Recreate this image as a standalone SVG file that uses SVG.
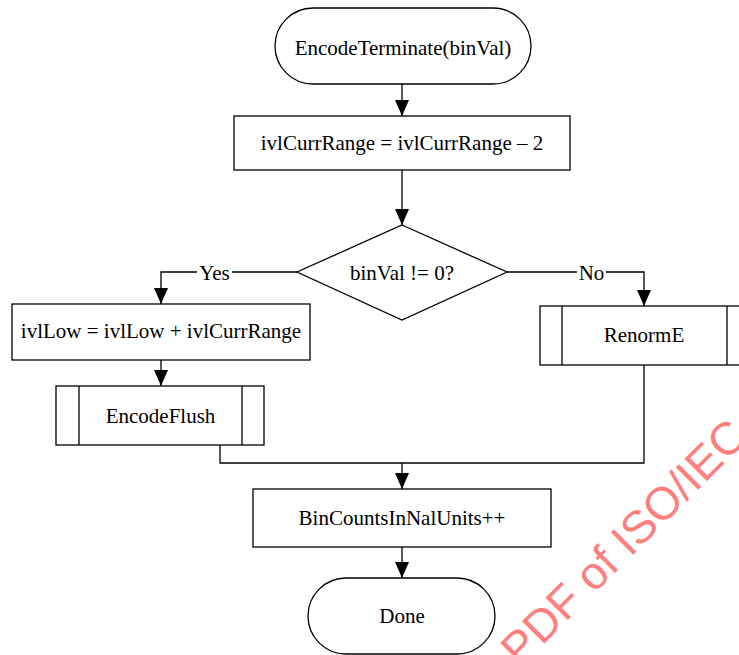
<svg xmlns="http://www.w3.org/2000/svg" width="739" height="655" viewBox="0 0 739 655">
<defs>
<marker id="arr" markerUnits="userSpaceOnUse" markerWidth="16" markerHeight="14" refX="16" refY="7" orient="auto">
<path d="M0,0 L16,7 L0,14 z" fill="#000"/>
</marker>
</defs>
<style>
.s{fill:#fff;stroke:#000;stroke-width:1.3}
.t{font-family:"Liberation Serif","Times New Roman",serif;font-size:21px;fill:#000;text-anchor:middle}
.c{fill:none;stroke:#000;stroke-width:1.3}
.a{marker-end:url(#arr)}
.wm{font-family:"Liberation Sans",Arial,sans-serif;font-size:46px;fill:#FF7F7F}
</style>
<rect width="739" height="655" fill="#fff"/>
<g id="connectors">
<line class="c a" x1="402" y1="84" x2="402" y2="116"/>
<line class="c a" x1="402" y1="170" x2="402" y2="225"/>
<polyline class="c a" points="297,272 161,272 161,304"/>
<polyline class="c a" points="507,272 644,272 644,306"/>
<line class="c a" x1="161" y1="360" x2="161" y2="386"/>
<polyline class="c" points="220,445 220,463 644,463 644,365"/>
<line class="c a" x1="402" y1="463" x2="402" y2="489"/>
<line class="c a" x1="402" y1="547" x2="402" y2="578"/>
<rect x="197" y="262" width="35" height="20" fill="#fff"/>
<text class="t" x="214.5" y="279.5">Yes</text>
<rect x="577" y="262" width="29" height="20" fill="#fff"/>
<text class="t" x="591.5" y="279.5">No</text>
</g>
<g id="start">
<rect class="s" x="275" y="8" width="256" height="76" rx="38" ry="38"/>
<text class="t" x="403" y="54.5">EncodeTerminate(binVal)</text>
</g>
<g id="decRange">
<rect class="s" x="234" y="116" width="336" height="54"/>
<text class="t" x="402" y="149.5">ivlCurrRange = ivlCurrRange – 2</text>
</g>
<g id="decision">
<polygon class="s" points="402,225 507,272 402,320 297,272"/>
<text class="t" x="402" y="279.5">binVal != 0?</text>
</g>
<g id="addLow">
<rect class="s" x="12" y="304" width="298" height="56"/>
<text class="t" x="161" y="337.5">ivlLow = ivlLow + ivlCurrRange</text>
</g>
<g id="encodeFlush">
<rect class="s" x="56" y="386" width="208" height="59"/>
<line class="c" x1="79" y1="386" x2="79" y2="445"/>
<line class="c" x1="242" y1="386" x2="242" y2="445"/>
<text class="t" x="160.5" y="423">EncodeFlush</text>
</g>
<g id="renormE">
<rect class="s" x="540" y="306" width="209" height="59"/>
<line class="c" x1="562" y1="306" x2="562" y2="365"/>
<line class="c" x1="727" y1="306" x2="727" y2="365"/>
<text class="t" x="644" y="342">RenormE</text>
</g>
<g id="binCounts">
<rect class="s" x="253" y="489" width="298" height="58"/>
<text class="t" x="402" y="525">BinCountsInNalUnits++</text>
</g>
<g id="done">
<rect class="s" x="308" y="578" width="187" height="76" rx="38" ry="38"/>
<text class="t" x="402" y="623">Done</text>
</g>
<text class="wm" x="520" y="668" transform="rotate(-45 520 668)">PDF of ISO/IEC</text>
</svg>
